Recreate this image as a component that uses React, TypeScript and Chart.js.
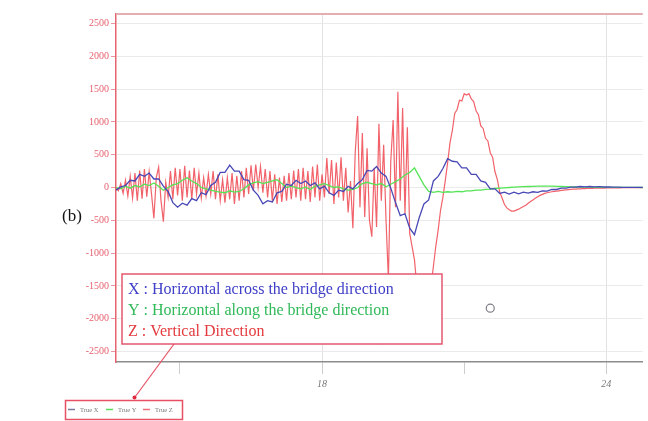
import React, { useEffect, useRef } from "react";
import { Chart, registerables } from "chart.js";

Chart.register(...registerables);

// ---- data (time axis in s, values in gal-like units) ----
const T_START = 13.65;
const STEP_Z = 0.05; // sampling step for Z series
const STEP_XY = 0.1; // sampling step for X and Y series

const trueX: number[] = [
  -40, 10, 30, 110, 100, 200, 170, 220, 130, 130,
  20, -60, -230, -300, -240, -270, -170, -200, -80, -110,
  30, 80, 230, 230, 340, 250, 250, 120, 110, -40,
  -120, -250, -200, -220, -80, -60, 50, 30, 110, 60,
  100, 30, 70, -20, 20, -80, -120, -40, -60, 20,
  -20, 60, 120, 260, 250, 320, 220, 170, -10, -230,
  -430, -400, -620, -720, -460, -250, -190, 100, 170, 290,
  440, 400, 390, 300, 300, 200, 200, 100, 80, -20,
  -20, -90, -70, -100, -70, -95, -70, -85, -65, -75,
  -50, -55, -30, -30, -10, -10, 5, 5, 15, 10,
  15, 10, 12, 8, 8, 5, 5, 3, 3, 2,
  2, 1, 0,
];

const trueY: number[] = [
  0, -20, 20, -10, 30, 10, 50, 30, 70, 20,
  -40, 0, 40, 60, 110, 150, 100, 60, 0, -20,
  -40, -60, -70, -80, -50, -70, -60, -20, 40, 70,
  90, 60, 80, 100, 120, 60, 0, 20, 0, -20,
  10, -30, 20, 40, 60, 30, 0, 10, -20, -40,
  -30, 0, 60, 80, 60, 40, 60, 10, 50, 90,
  130, 190, 230, 300, 170, 40, -60, -75, -60, -75,
  -65, -70, -60, -65, -50, -50, -40, -40, -30, -25,
  -15, -10, -5, 0, 5, 10, 12, 15, 18, 20,
  20, 20, 20, 18, 15, 12, 10, 8, 6, 5,
  5, 4, 4, 3, 3, 2, 2, 2, 1, 1,
  1, 0, 0,
];

const trueZ: number[] = [
  0, -50, 60, -90, 110, -130, 170, -160, 220, -200,
  260, -170, 280, -140, 240, -100, -470, 150, 310, -200,
  -520, 80, -150, 250, -180, 300, -120, 280, -200, 330,
  -150, 260, -180, 300, -100, 220, -160, 150, -130, 200,
  -100, 250, -180, 200, -200, 120, -230, 150, -180, 220,
  -250, 180, -200, 250, -150, 300, -100, 340, -50, 350,
  0, 320, -80, 280, -150, 250, -200, 200, -250, 150,
  -220, 180, -200, 220, -180, 260, -150, 280, -200, 300,
  -180, 250, -220, 320, -150, 350, -200, 200, -150, 450,
  -100, 420, -250, 380, -150, 460, -200, 300, -380, 100,
  -620, 540, 1090, -300, 830, -450, 600, -500, -750, 300,
  -600, 970, -200, 650, -500, -1400, 400, 1030, -300, 1460,
  -200, 1210, -400, 920, -700, -900, -1100, -1500, -1900, -2000,
  -1900, -1700, -1600, -1500, -1200, -900, -650, -350, -150, 100,
  380, 680, 870, 1130, 1190, 1330, 1320, 1430, 1410, 1430,
  1350, 1310, 1170, 1110, 940, 900, 750, 710, 530, 460,
  240, 120, -70, -160, -260, -310, -340, -360, -360, -345,
  -330, -310, -290, -270, -240, -215, -190, -165, -140, -120,
  -105, -90, -80, -72, -65, -60, -55, -50, -45, -40,
  -36, -32, -29, -26, -24, -22, -20, -18, -16, -15,
  -14, -12, -11, -10, -9, -8, -8, -7, -7, -6,
  -6, -5, -5, -5, -4, -4, -4, -3, -3, -3,
  -2, -2, -2, -2,
];

// stray marker seen in the plot
const markerPoint = [{ x: 21.55, y: -1840 }];

const seriesNames = ["True X", "True Y", "True Z"];
const seriesColors = ["rgb(72,72,182)", "rgb(85,228,85)", "rgba(238,70,80,0.85)"];
const legendSwatch = ["rgb(120,120,160)", "rgb(90,220,90)", "rgb(235,110,120)"];
const noteLines = [
  "X : Horizontal across the bridge direction",
  "Y : Horizontal along the bridge direction",
  "Z : Vertical Direction",
];
const noteColors = ["rgb(62,62,200)", "rgb(48,185,88)", "rgb(228,58,62)"];
const panelLabel = "(b)";

const X_MIN = 13.65;
const X_MAX = 24.77;
const Y_MIN = -2660;
const Y_MAX = 2645;
const xTickValues = [15, 18, 21, 24];
const labeledXTicks = [18, 24];
const yTickValues = [-2500, -2000, -1500, -1000, -500, 0, 500, 1000, 1500, 2000, 2500];

const SERIF = "'Liberation Serif', 'Times New Roman', serif";

const toPoints = (vals: number[], step: number) =>
  vals.map((v, i) => ({ x: Math.round((T_START + i * step) * 1000) / 1000, y: v }));

const annotationPlugin = {
  id: "annotations",
  afterDraw(chart: any) {
    const ctx: CanvasRenderingContext2D = chart.ctx;
    const { left, right, top } = chart.chartArea;
    ctx.save();

    // top frame line
    ctx.strokeStyle = "rgb(228,175,178)";
    ctx.lineWidth = 2;
    ctx.beginPath();
    ctx.moveTo(left, top);
    ctx.lineTo(right, top);
    ctx.stroke();

    // panel label
    ctx.fillStyle = "#111";
    ctx.font = `17px ${SERIF}`;
    ctx.textBaseline = "alphabetic";
    ctx.textAlign = "left";
    ctx.fillText(panelLabel, 62, 221);

    // explanation box
    ctx.fillStyle = "#fff";
    ctx.fillRect(122, 274, 320, 70);
    ctx.strokeStyle = "rgb(226,88,112)";
    ctx.lineWidth = 1.5;
    ctx.strokeRect(122, 274, 320, 70);
    ctx.font = `16px ${SERIF}`;
    noteLines.forEach((t, i) => {
      ctx.fillStyle = noteColors[i];
      ctx.fillText(t, 128, 294 + i * 21);
    });

    // pointer line to legend
    ctx.strokeStyle = "rgb(230,80,100)";
    ctx.lineWidth = 1.2;
    ctx.beginPath();
    ctx.moveTo(174, 344);
    ctx.lineTo(135, 397);
    ctx.stroke();
    ctx.fillStyle = "rgb(225,40,60)";
    ctx.beginPath();
    ctx.arc(134.5, 397.5, 2, 0, Math.PI * 2);
    ctx.fill();

    // small legend box
    ctx.strokeStyle = "rgb(230,80,100)";
    ctx.lineWidth = 1.5;
    ctx.strokeRect(65.5, 400.5, 117, 19);
    const lineX = [68, 106, 143];
    const textX = [80, 118, 155];
    ctx.font = `6.5px ${SERIF}`;
    ctx.textBaseline = "middle";
    seriesNames.forEach((n, i) => {
      ctx.strokeStyle = legendSwatch[i];
      ctx.lineWidth = 1.5;
      ctx.beginPath();
      ctx.moveTo(lineX[i], 409.5);
      ctx.lineTo(lineX[i] + 7, 409.5);
      ctx.stroke();
      ctx.fillStyle = "rgb(120,120,120)";
      ctx.fillText(n, textX[i], 410);
    });

    ctx.restore();
  },
};

export default function App() {
  const canvasRef = useRef<HTMLCanvasElement | null>(null);

  useEffect(() => {
    if (!canvasRef.current) return;
    const chart = new Chart(canvasRef.current, {
      type: "line",
      data: {
        datasets: [
          {
            label: seriesNames[0],
            data: toPoints(trueX, STEP_XY),
            borderColor: seriesColors[0],
            borderWidth: 1.3,
            pointRadius: 0,
            tension: 0,
          },
          {
            label: seriesNames[1],
            data: toPoints(trueY, STEP_XY),
            borderColor: seriesColors[1],
            borderWidth: 1.3,
            pointRadius: 0,
            tension: 0,
          },
          {
            label: seriesNames[2],
            data: toPoints(trueZ, STEP_Z),
            borderColor: seriesColors[2],
            borderWidth: 1.2,
            pointRadius: 0,
            tension: 0,
          },
          {
            label: "marker",
            data: markerPoint,
            showLine: false,
            pointRadius: 4,
            pointBorderWidth: 1.2,
            pointBorderColor: "rgb(125,125,135)",
            pointBackgroundColor: "rgba(255,255,255,0)",
          },
        ],
      },
      options: {
        responsive: false,
        animation: false,
        events: [],
        layout: { padding: { left: 86, top: 14, right: 0, bottom: 19 } },
        plugins: {
          legend: { display: false },
          tooltip: { enabled: false },
          title: { display: false },
        },
        scales: {
          x: {
            type: "linear",
            min: X_MIN,
            max: X_MAX,
            afterBuildTicks: (s: any) => {
              s.ticks = xTickValues.map((v) => ({ value: v }));
            },
            afterFit: (s: any) => {
              s.height = 40;
            },
            border: { color: "rgb(140,140,140)", width: 1.5 },
            grid: {
              color: (c: any) =>
                c.tick && labeledXTicks.includes(Math.round(c.tick.value))
                  ? "rgb(226,226,226)"
                  : "rgba(0,0,0,0)",
              tickColor: "rgb(205,205,205)",
              tickLength: 12,
            },
            ticks: {
              autoSkip: false,
              maxRotation: 0,
              padding: 4,
              color: "rgb(120,120,120)",
              font: { family: SERIF, size: 10, style: "italic" },
              callback: (v: any) =>
                labeledXTicks.includes(Math.round(Number(v))) ? String(Math.round(Number(v))) : "",
            },
          },
          y: {
            type: "linear",
            min: Y_MIN,
            max: Y_MAX,
            afterBuildTicks: (s: any) => {
              s.ticks = yTickValues.map((v) => ({ value: v }));
            },
            afterFit: (s: any) => {
              s.width = 30;
            },
            border: { color: "rgb(228,100,112)", width: 1.5 },
            grid: {
              color: "rgb(234,234,234)",
              tickColor: "rgb(235,150,158)",
              tickLength: 5,
            },
            ticks: {
              autoSkip: false,
              padding: 2,
              color: "rgb(230,95,110)",
              font: { family: SERIF, size: 10 },
              callback: (v: any) => String(Math.round(Number(v))),
            },
          },
        },
      },
      plugins: [annotationPlugin],
    });
    return () => chart.destroy();
  }, []);

  return (
    <div style={{ position: "absolute", left: 0, top: 0, width: 648, height: 421, background: "#fff" }}>
      <canvas ref={canvasRef} width={648} height={421} style={{ width: 648, height: 421, display: "block" }} />
    </div>
  );
}
